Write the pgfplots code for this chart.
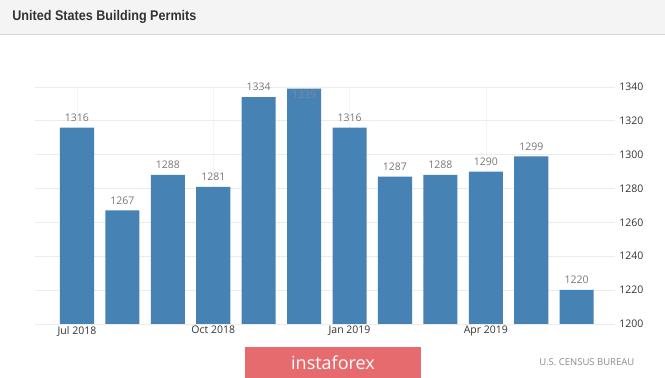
\documentclass[border=0pt]{standalone}
\usepackage{pgfplots}
\pgfplotsset{compat=1.18}
\usepackage{fontspec}
\setmainfont{Open Sans}
\newfontfamily\titlefont{Liberation Sans}
\definecolor{barblue}{RGB}{70,130,180}
\definecolor{titlebg}{RGB}{244,244,244}
\definecolor{titleline}{RGB}{214,214,214}
\definecolor{gridc}{RGB}{236,236,236}
\definecolor{vgridc}{RGB}{244,244,244}
\definecolor{labgray}{RGB}{119,119,119}
\definecolor{hidlab}{RGB}{120,140,165}
\definecolor{tickc}{RGB}{51,51,51}
\definecolor{insta}{RGB}{229,107,110}
\newcommand\insidelab[1]{\raisebox{-17pt}[0pt][0pt]{\textcolor{hidlab}{#1}}}
\begin{document}
\begin{tikzpicture}
\fill[white] (0pt,0pt) rectangle (665pt,378pt);
\fill[titlebg] (0pt,344pt) rectangle (665pt,378pt);
\draw[titleline] (0pt,344pt) -- (665pt,344pt);
\node[anchor=west, text=tickc, inner sep=0pt] at (12pt,361pt) {\scalebox{0.9}[1]{\titlefont\fontsize{14}{16}\selectfont\bfseries United States Building Permits}};
\begin{axis}[
  at={(35pt,54pt)}, anchor=south west,
  scale only axis, width=580pt, height=237pt,
  xmin=-0.92, xmax=11.84, ymin=1200, ymax=1340,
  axis line style={draw=none},
  major tick length=0pt,
  xtick={0,3,6,9},
  xticklabels={Jul 2018,Oct 2018,Jan 2019,Apr 2019},
  ytick={1200,1220,...,1340},
  yticklabel pos=right,
  yticklabel style={anchor=west, xshift=1pt},
  /pgf/number format/assume math mode=true,
  /pgf/number format/1000 sep={},
  tick label style={font=\fontsize{10.5}{12}\selectfont, text=tickc},
  xticklabel style={yshift=1pt},
  ymajorgrids, xmajorgrids,
  y grid style={gridc, line width=0.6pt},
  x grid style={vgridc, line width=0.6pt},
  clip=false,
]
\addplot[ybar, bar width=0.75, bar shift=0pt, fill=barblue, draw=none] coordinates {
(0,1316) (1,1267) (2,1288) (3,1281) (4,1334) (5,1339) (6,1316) (7,1287) (8,1288) (9,1290) (10,1299) (11,1220)};
\addplot[only marks, mark=none, nodes near coords,
  nodes near coords style={font=\fontsize{10.5}{12}\selectfont, text=labgray, anchor=south, inner sep=0pt, yshift=6pt},
  point meta=explicit symbolic] coordinates {
(0,1316) [1316] (1,1267) [1267] (2,1288) [1288] (3,1281) [1281] (4,1334) [1334] (5,1339) [\insidelab{1339}] (6,1316) [1316] (7,1287) [1287] (8,1288) [1288] (9,1290) [1290] (10,1299) [1299] (11,1220) [1220]};
\end{axis}
\fill[insta] (245pt,0pt) rectangle (421pt,30.5pt);
\node[text=white, inner sep=0pt] at (333pt,15.5pt) {\fontsize{18}{20}\selectfont instaforex};
\node[text=labgray!85, inner sep=0pt] at (587pt,16pt) {\fontsize{9.5}{11}\selectfont U.S. CENSUS BUREAU};
\end{tikzpicture}
\end{document}
